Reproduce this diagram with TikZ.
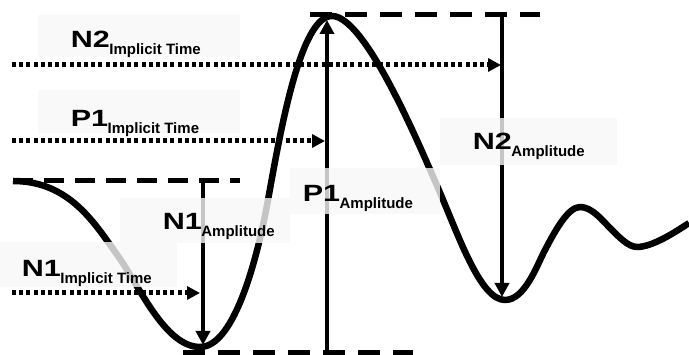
\documentclass[tikz,border=0pt]{standalone}
\usepackage{graphicx}
\usepackage{fontspec}
\setmainfont{Liberation Sans}[BoldFont={Liberation Sans Bold}]
\usetikzlibrary{arrows.meta}
\newcommand\waveLabel[2]{\scalebox{1.3}[1]{\fontsize{23.5}{24}\selectfont\bfseries #1}\hspace{-0.5pt}\raisebox{-7pt}{\fontsize{15}{16}\selectfont\bfseries #2}}
\begin{document}
\begin{tikzpicture}[x=1pt,y=-1pt,
  curve/.style={line width=6.5pt, line join=round},
  refline/.style={line width=5pt, dash pattern=on 22pt off 13pt},
  ampline/.style={line width=4pt, -{Triangle[length=14pt,width=14pt]}},
  timeline/.style={line width=5pt, dash pattern=on 4pt off 3.2pt, -{Triangle[length=13pt,width=13pt]}},
  labelbox/.style={fill=black!3, fill opacity=0.8},
  lbl/.style={inner sep=0pt, anchor=base west},
]
\useasboundingbox (0,0) rectangle (689,355);

% waveform
\draw[curve] (13,181)
  .. controls (70,181) and (95,224) .. (118,256)
  .. controls (139,285.4) and (165,347) .. (200,347)
  .. controls (235,347) and (258,255) .. (268,200)
  .. controls (280,134) and (300,16) .. (332,16)
  .. controls (365,16) and (418,142) .. (438,188)
  .. controls (458,234) and (480,300) .. (505,300)
  .. controls (525,300) and (537,265) .. (545,250)
  .. controls (555,231) and (568,207) .. (580,207)
  .. controls (592,207) and (602,220) .. (610,228)
  .. controls (618,236) and (628,247) .. (637,247)
  .. controls (652,247) and (674,233) .. (689,223);

% reference levels
\coordinate (topL) at (310,15);  \coordinate (topR) at (540,15);
\coordinate (midL) at (13,181);  \coordinate (midR) at (240,181);
\coordinate (botL) at (183,353); \coordinate (botR) at (413,353);
\draw[refline] (topL) -- (topR);
\draw[line width=5pt, dash pattern=on 20pt off 11pt] (midL) -- (midR);
\draw[refline] (botL) -- (botR);

% amplitude arrows
\coordinate (n1top) at (203,181); \coordinate (n1bot) at (203,345);
\coordinate (p1bot) at (327,355); \coordinate (p1top) at (327,20);
\coordinate (n2top) at (502,15);  \coordinate (n2bot) at (502,297);
\draw[ampline] (n1top) -- (n1bot);
\draw[ampline] (p1bot) -- (p1top);
\draw[ampline] (n2top) -- (n2bot);

% implicit time arrows
\coordinate (t1s) at (12,293); \coordinate (t1e) at (200,293);
\coordinate (t2s) at (12,141); \coordinate (t2e) at (325,141);
\coordinate (t3s) at (12,65);  \coordinate (t3e) at (501,65);
\draw[timeline] (t1s) -- (t1e);
\draw[timeline] (t2s) -- (t2e);
\draw[timeline] (t3s) -- (t3e);

% label backgrounds
\fill[labelbox] (38,15) rectangle (240,57);
\fill[labelbox] (38,90) rectangle (240,133);
\fill[labelbox] (0,242) rectangle (177,287);
\fill[labelbox] (120,198) rectangle (290,243);
\fill[labelbox] (290,168) rectangle (440,214);
\fill[labelbox] (440,118) rectangle (617,165);

% labels
\node[lbl] (lN2t) at (70.6,48)  {\waveLabel{N2}{Implicit Time}};
\node[lbl] (lP1t) at (70.6,127) {\waveLabel{P1}{Implicit Time}};
\node[lbl] (lN1t) at (21.6,277) {\waveLabel{N1}{Implicit Time}};
\node[lbl] (lN1a) at (162.6,230) {\waveLabel{N1}{Amplitude}};
\node[lbl] (lP1a) at (302.6,202) {\waveLabel{P1}{Amplitude}};
\node[lbl] (lN2a) at (472.6,150) {\waveLabel{N2}{Amplitude}};
\end{tikzpicture}
\end{document}
